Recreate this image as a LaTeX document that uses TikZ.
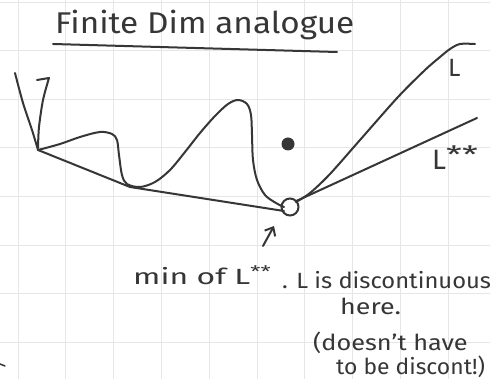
\documentclass[tikz,border=0pt]{standalone}
\usepackage{fontspec}
\setmainfont{Fira Sans}
\usetikzlibrary{arrows.meta}
\definecolor{ink}{HTML}{363636}
\definecolor{gridc}{HTML}{E6E6E6}
\newcommand{\wide}[2]{\scalebox{#1}[1]{#2}}
\begin{document}
\begin{tikzpicture}[x=1pt,y=-1pt,
  ink line/.style={draw=ink,line width=2pt,line cap=round,line join=round},
  hand/.style={text=ink,inner sep=0pt,anchor=base west},
  gridline/.style={draw=gridc,line width=0.8pt}]
\useasboundingbox[fill=white] (0,0) rectangle (490,379);
% grid paper
\foreach \k in {0,...,9} {\draw[gridline] (18+47.8*\k,0) -- (18+47.8*\k,379);}
\foreach \k in {0,...,7} {\draw[gridline] (0,2+48.6*\k) -- (490,2+48.6*\k);}
% title
\node[hand,font=\fontsize{30}{30}\selectfont] (title) at (55,34) {\wide{1.11}{Finite Dim analogue}};
\coordinate (ulA) at (53,44);
\coordinate (ulB) at (337,52);
\draw[ink line] (ulA) -- (ulB);
% function L (left wiggly part)
\draw[ink line] plot[smooth,tension=0.5] coordinates {(15,73) (23,103) (32,130) (38,150)};
\draw[ink line] (37,80) -- (49,78) -- plot[smooth,tension=0.5] coordinates {(49,78) (43,100) (39,127) (38,148)};
\draw[ink line] plot[smooth,tension=0.55] coordinates {(38,150) (60,144) (80,137) (100,132) (112,134) (117,140) (119,155) (122,175) (127,184) (140,187) (155,182) (170,170) (185,152) (200,133) (215,116) (228,104) (238,100) (247,104) (251,115) (252,135) (253,160) (257,180) (265,195) (276,203) (284,207)};
% convex envelope L**
\coordinate (h1) at (38,150);
\coordinate (h2) at (130,187);
\coordinate (h3) at (284,211);
\draw[ink line] (h1) -- (h2) -- (h3);
% minimum circle
\node[circle,draw=ink,line width=2pt,minimum size=17pt,inner sep=0pt] (minpt) at (290,207) {};
% L to the right
\draw[ink line] plot[smooth,tension=0.5] coordinates {(296,202) (310,193) (330,174) (360,140) (398,97) (425,70) (440,57) (450,49) (460,44) (475,44)};
% L** to the right
\coordinate (lssEnd) at (477,118);
\draw[ink line] (minpt.north east) ++(-1,1) -- (lssEnd);
% value of L at the minimiser
\fill[ink] (288,144) circle (6.5pt);
% labels
\node[hand,font=\fontsize{25}{25}\selectfont] (Llbl) at (448,77) {L};
\node[hand,font=\fontsize{28}{28}\selectfont] (Lsslbl) at (432,170) {L\raisebox{0.22em}{\fontsize{24}{24}\selectfont\wide{1.5}{**}}};
% arrow to min
\coordinate (arA) at (263,246);
\coordinate (arB) at (274,226);
\draw[ink line,-{Straight Barb[length=7pt,width=12pt]}] (arA) -- (arB);
% annotation
\node[hand,font=\fontsize{22}{22}\selectfont] (minlbl) at (133,285) {\wide{1.45}{min of L\raisebox{0.35em}{\fontsize{16}{16}\selectfont **}}};
\node[hand,font=\fontsize{22}{22}\selectfont] (disc) at (282,289) {\wide{1.08}{. L is discontinuous}};
\node[hand,font=\fontsize{22}{22}\selectfont] (here) at (340,315) {\wide{1.22}{here.}};
\node[hand,font=\fontsize{22}{22}\selectfont] (doesnt) at (313,350) {\wide{1.15}{(doesn't have}};
\node[hand,font=\fontsize{22}{22}\selectfont] (discont) at (336,374) {\wide{1.04}{to be discont!)}};
% stray mark bottom left
\coordinate (mA) at (0,364);
\coordinate (mB) at (5,366);
\draw[ink line,line width=1.5pt] (mA) -- (mB);
\end{tikzpicture}
\end{document}
